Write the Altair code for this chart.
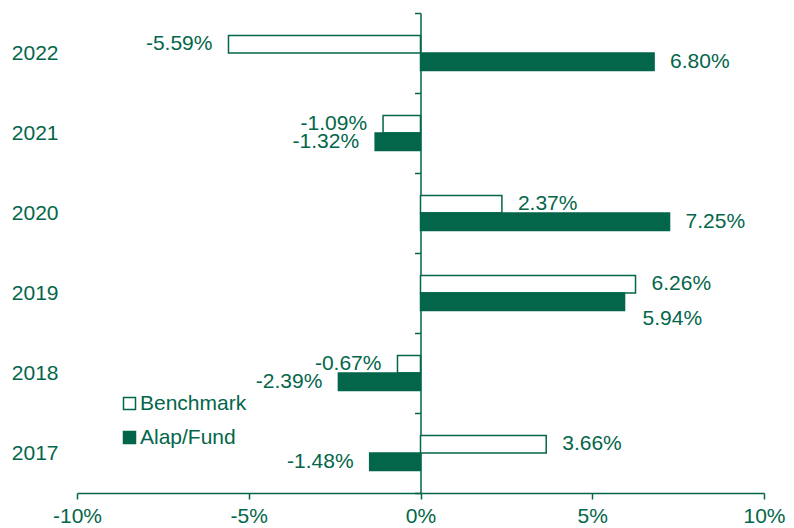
import altair as alt
import pandas as pd

years = ["2022", "2021", "2020", "2019", "2018", "2017"]
benchmark = [-5.59, -1.09, 2.37, 6.26, -0.67, 3.66]
fund = [6.80, -1.32, 7.25, 5.94, -2.39, -1.48]
series = ["Benchmark", "Alap/Fund"]
x_ticks = [-10, -5, 0, 5, 10]

GREEN = "#03664A"
FONT = "Liberation Sans"
FS = 21

rows = []
for yr, b, f in zip(years, benchmark, fund):
    rows.append({"year": yr, "series": "Benchmark", "value": b})
    rows.append({"year": yr, "series": "Alap/Fund", "value": f})
df = pd.DataFrame(rows)
df["label"] = df["value"].map(lambda v: f"{v:.2f}%")

W, H = 687, 480

y_enc = alt.Y(
    "year:N",
    sort=years,
    scale=alt.Scale(paddingInner=0, paddingOuter=0),
    axis=alt.Axis(
        title=None,
        orient="left",
        offset=-W / 2,
        domainColor=GREEN,
        domainWidth=1.5,
        tickColor=GREEN,
        tickWidth=1.5,
        tickSize=6,
        tickBand="extent",
        labelPadding=W / 2 + 13,
        labelColor=GREEN,
        labelFontSize=FS,
        labelFont=FONT,
        labelAlign="right",
    ),
)
# spacer slots above/below keep the pair of bars in the middle of each year band
yoff_enc = alt.YOffset(
    "series:N",
    scale=alt.Scale(domain=[" ", *series, "  "], paddingInner=0, paddingOuter=0.2857),
)
x_enc = alt.X(
    "value:Q",
    scale=alt.Scale(domain=[-10, 10], nice=False),
    axis=alt.Axis(
        values=x_ticks,
        labelExpr="datum.value + '%'",
        labelFlush=False,
        title=None,
        grid=False,
        domainColor=GREEN,
        domainWidth=1.5,
        tickColor=GREEN,
        tickWidth=1.5,
        tickSize=6,
        labelColor=GREEN,
        labelFontSize=FS,
        labelFont=FONT,
        labelPadding=6,
    ),
)

base = alt.Chart(df).encode(y=y_enc, yOffset=yoff_enc, x=x_enc)

bars = base.mark_bar(stroke=GREEN, strokeWidth=1.5).encode(
    fill=alt.Fill(
        "series:N",
        sort=series,
        scale=alt.Scale(domain=series, range=["white", GREEN]),
        legend=alt.Legend(
            title=None,
            orient="none",
            legendX=42,
            legendY=380,
            symbolType="square",
            symbolSize=144,
            symbolStrokeColor=GREEN,
            symbolStrokeWidth=1.5,
            labelFont=FONT,
            labelFontSize=FS,
            labelColor=GREEN,
            labelOffset=0,
            rowPadding=12,
            padding=0,
        ),
    )
)

txt_kw = dict(baseline="middle", fontSize=FS, font=FONT, color=GREEN)
special = "datum.year == '2019' && datum.series == 'Alap/Fund'"

pos_txt = base.mark_text(align="left", dx=16, **txt_kw).encode(text="label:N").transform_filter(
    f"datum.value >= 0 && !({special})"
)
neg_txt = base.mark_text(align="right", dx=-16, **txt_kw).encode(text="label:N").transform_filter(
    "datum.value < 0"
)
shift_txt = base.mark_text(align="left", dx=18, dy=17, **txt_kw).encode(text="label:N").transform_filter(
    special
)

chart = (
    alt.layer(bars, pos_txt, neg_txt, shift_txt)
    .properties(
        width=W,
        height=H,
        autosize=alt.AutoSizeParams(type="none"),
        padding={"left": 69, "top": 5, "right": 22, "bottom": 35},
    )
    .configure_view(stroke=None)
)

chart.save("out.html", embed_options={"renderer": "svg", "actions": False})
